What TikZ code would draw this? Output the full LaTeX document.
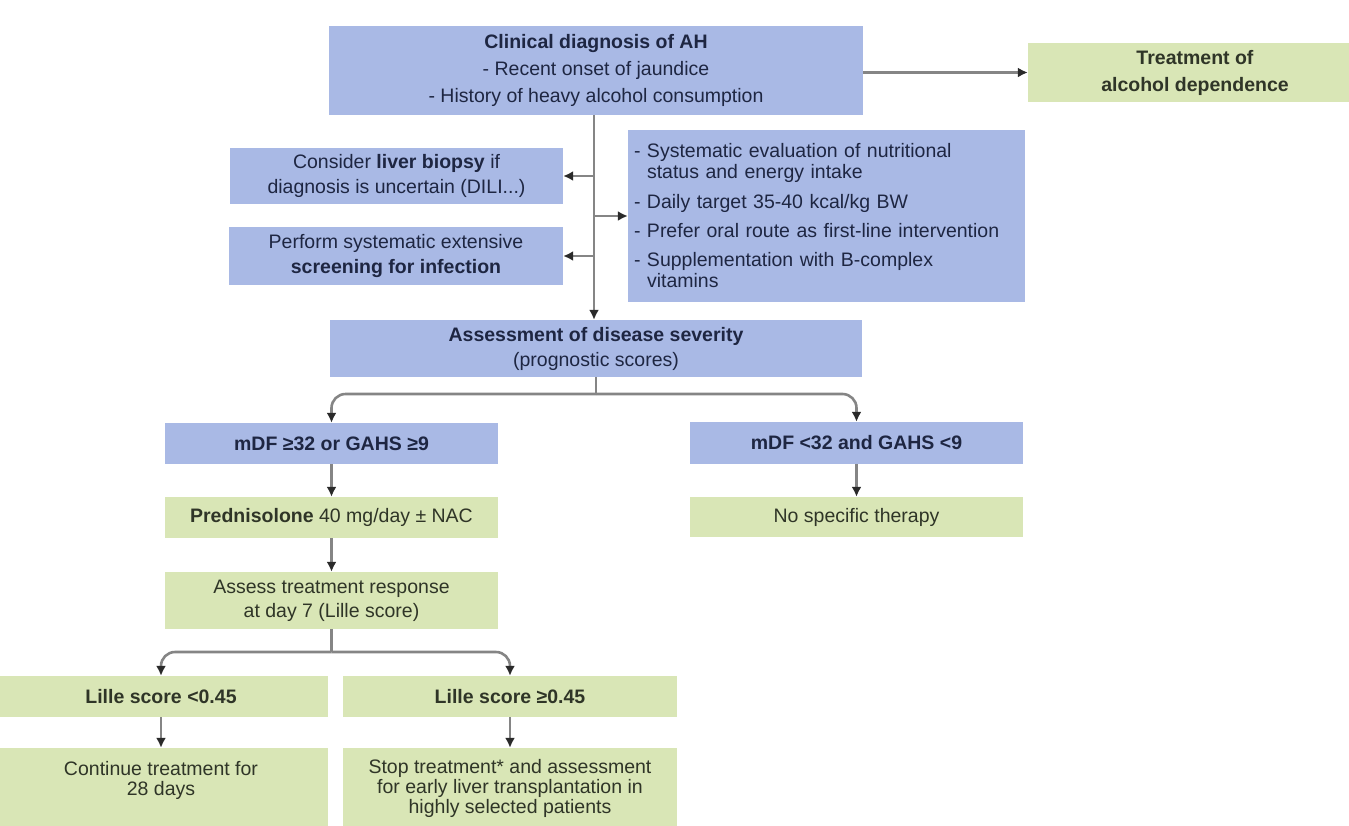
\documentclass[tikz,border=0pt]{standalone}
\usepackage{fontspec}
\setmainfont{Liberation Sans}
\usetikzlibrary{arrows.meta}
\definecolor{boxblue}{HTML}{A9B9E5}
\definecolor{boxgreen}{HTML}{D9E6B6}
\definecolor{txtblue}{HTML}{1E2642}
\definecolor{txtgreen}{HTML}{2F3527}
\definecolor{linegray}{HTML}{858585}
\definecolor{tipgray}{HTML}{2A2A2A}
\begin{document}
\begin{tikzpicture}[x=1pt,y=-1pt,
  bbox/.style={rectangle, fill=boxblue, text=txtblue, inner sep=0pt, align=center,
    font=\fontsize{19.5}{25}\selectfont},
  gbox/.style={rectangle, fill=boxgreen, text=txtgreen, inner sep=0pt, align=center,
    font=\fontsize{19.5}{24}\selectfont},
  conn/.style={draw=linegray, line width=2.6pt, -{Latex[length=10pt,width=10pt,color=tipgray]}},
  link/.style={draw=linegray, line width=2.6pt}]
\useasboundingbox (0,0) rectangle (1349,825);

% boxes
\node[bbox, minimum width=534pt, minimum height=89pt, font=\fontsize{19.5}{27}\selectfont] (clin) at (596,70.5)
  {\textbf{Clinical diagnosis of AH}\\- Recent onset of jaundice\\- History of heavy alcohol consumption};
\node[gbox, minimum width=334pt, minimum height=59pt, font=\fontsize{19.5}{27}\selectfont] (treat) at (1195,72.5)
  {\textbf{Treatment of}\\\textbf{alcohol dependence}};
\node[bbox, minimum width=333pt, minimum height=56pt] (biopsy) at (396.5,176)
  {Consider \textbf{liver biopsy} if\\diagnosis is uncertain (DILI...)};
\node[bbox, minimum width=334pt, minimum height=58pt] (infect) at (396,256)
  {Perform systematic extensive\\\textbf{screening for infection}};
\node[bbox, minimum width=397pt, minimum height=172pt, align=left, text width=385pt,
  font=\fontsize{19.5}{21}\selectfont] (nutr) at (826.5,216)
  {- Systematic evaluation of nutritional\\\phantom{- }status and energy intake\\[9pt]
   - Daily target 35-40 kcal/kg BW\\[8pt]
   - Prefer oral route as first-line intervention\\[8pt]
   - Supplementation with B-complex\\\phantom{- }vitamins};
\node[bbox, minimum width=532pt, minimum height=57pt] (assess) at (596,348.5)
  {\textbf{Assessment of disease severity}\\(prognostic scores)};
\node[bbox, minimum width=333pt, minimum height=41pt] (mdfhi) at (331.5,443.5)
  {\textbf{mDF ≥32 or GAHS ≥9}};
\node[bbox, minimum width=333pt, minimum height=42pt] (mdflo) at (856.5,443)
  {\textbf{mDF <32 and GAHS <9}};
\node[gbox, minimum width=333pt, minimum height=41pt] (pred) at (331.5,517.5)
  {\textbf{Prednisolone} 40 mg/day ± NAC};
\node[gbox, minimum width=333pt, minimum height=40pt] (nospec) at (856.5,517)
  {No specific therapy};
\node[gbox, minimum width=333pt, minimum height=57pt] (assresp) at (331.5,600.5)
  {Assess treatment response\\at day 7 (Lille score)};
\node[gbox, minimum width=334pt, minimum height=41pt] (lillelo) at (161,696.5)
  {\textbf{Lille score <0.45}};
\node[gbox, minimum width=334pt, minimum height=41pt] (lillehi) at (510,696.5)
  {\textbf{Lille score ≥0.45}};
\node[gbox, minimum width=334pt, minimum height=80pt, font=\fontsize{19.5}{20}\selectfont] (cont) at (161,788)
  {Continue treatment for\\28 days\\\mbox{}};
\node[gbox, minimum width=334pt, minimum height=80pt, font=\fontsize{19.5}{20}\selectfont] (stop) at (510,788)
  {Stop treatment* and assessment\\for early liver transplantation in\\highly selected patients};

% connectors
\coordinate (spine) at (594,0);
\draw[conn] (clin.east |- treat.west) -- (treat.west);
\draw[conn] (spine |- clin.south) -- (spine |- assess.north);
\draw[conn] (spine |- biopsy.east) -- (biopsy.east);
\draw[conn] (spine |- infect.east) -- (infect.east);
\draw[conn] (spine |- nutr.west) -- (nutr.west);

\coordinate (bj) at (596,394);
\draw[link] (assess.south) -- (bj);
\draw[conn, rounded corners=14pt] (bj) -- (bj -| mdfhi.north) -- (mdfhi.north);
\draw[conn, rounded corners=14pt] (bj) -- (bj -| mdflo.north) -- (mdflo.north);
\draw[conn] (mdfhi) -- (pred);
\draw[conn] (pred) -- (assresp);
\draw[conn] (mdflo) -- (nospec);

\coordinate (bj2) at (331.5,652);
\draw[link] (assresp.south) -- (bj2);
\draw[conn, rounded corners=14pt] (bj2) -- (bj2 -| lillelo.north) -- (lillelo.north);
\draw[conn, rounded corners=14pt] (bj2) -- (bj2 -| lillehi.north) -- (lillehi.north);
\draw[conn] (lillelo) -- (cont);
\draw[conn] (lillehi) -- (stop);
\end{tikzpicture}
\end{document}
